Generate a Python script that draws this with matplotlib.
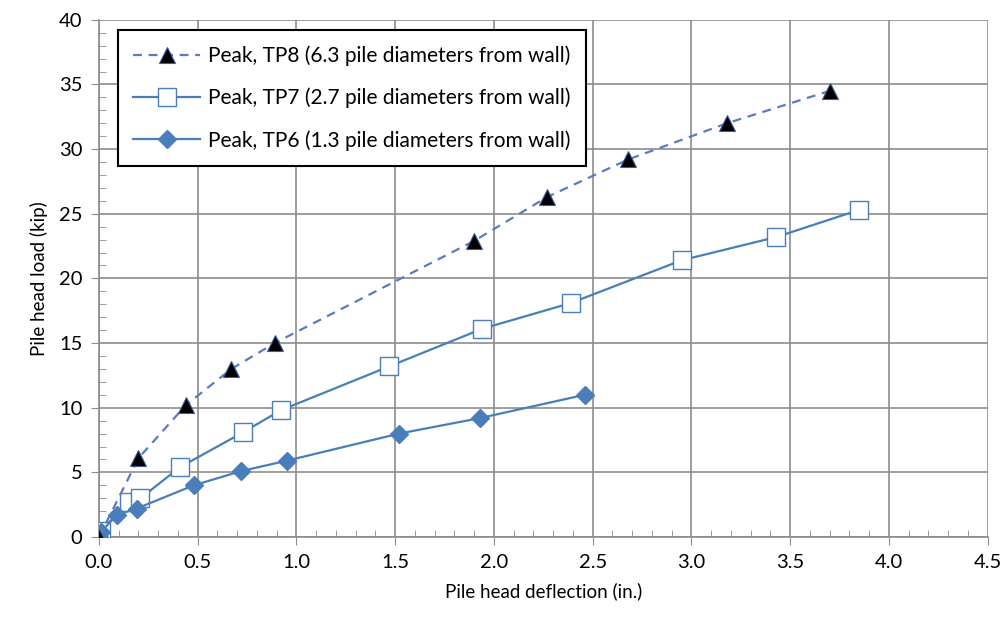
import matplotlib.pyplot as plt
from matplotlib.ticker import MultipleLocator

plt.rcParams["font.family"] = ["Lato", "DejaVu Sans"]

# peak load vs. deflection for the three test piles
tp8_defl = [0.0, 0.20, 0.44, 0.67, 0.89, 1.90, 2.27, 2.68, 3.18, 3.70]
tp8_load = [0.0, 6.1, 10.2, 13.0, 15.0, 22.9, 26.3, 29.2, 32.0, 34.5]

tp7_defl = [0.0, 0.01, 0.15, 0.21, 0.41, 0.73, 0.92, 1.47, 1.94, 2.39, 2.95, 3.43, 3.85]
tp7_load = [0.0, 0.5, 2.7, 3.0, 5.4, 8.1, 9.8, 13.2, 16.1, 18.1, 21.4, 23.2, 25.3]

tp6_defl = [0.0, 0.01, 0.09, 0.19, 0.48, 0.72, 0.95, 1.52, 1.93, 2.46]
tp6_load = [0.0, 0.4, 1.7, 2.2, 4.0, 5.1, 5.9, 8.0, 9.2, 11.0]

labels = [
    "Peak, TP8 (6.3 pile diameters from wall)",
    "Peak, TP7 (2.7 pile diameters from wall)",
    "Peak, TP6 (1.3 pile diameters from wall)",
]

blue = "#4a7ebb"

fig = plt.figure(figsize=(10.03, 6.18), dpi=100)
ax = fig.add_axes([0.0987, 0.131, 0.886, 0.837])

ax.plot(tp8_defl, tp8_load, linestyle=(0, (4, 3)), color="#5a7cbf", linewidth=1.6,
        marker="^", markersize=11, markerfacecolor="black", markeredgecolor="#3a5f9f",
        markeredgewidth=0.8, label=labels[0], zorder=5)
ax.plot(tp7_defl, tp7_load, color=blue, linewidth=1.6,
        marker="s", markersize=13, markerfacecolor="white", markeredgecolor=blue,
        markeredgewidth=1.0, label=labels[1], zorder=4)
ax.plot(tp6_defl, tp6_load, color=blue, linewidth=1.6,
        marker="D", markersize=9.5, markerfacecolor=blue, markeredgecolor=blue,
        label=labels[2], zorder=4)

ax.set_xlim(0, 4.5)
ax.set_ylim(0, 40)
ax.xaxis.set_major_locator(MultipleLocator(0.5))
ax.xaxis.set_minor_locator(MultipleLocator(0.1))
ax.yaxis.set_major_locator(MultipleLocator(5))
ax.yaxis.set_minor_locator(MultipleLocator(1))
ax.xaxis.set_major_formatter(plt.FormatStrFormatter("%.1f"))

ax.grid(True, which="major", color="#8c8c8c", linewidth=1.2)
ax.set_axisbelow(True)
for side in ["top", "right"]:
    ax.spines[side].set_visible(False)
for side in ["left", "bottom"]:
    ax.spines[side].set_color("#8c8c8c")
    ax.spines[side].set_linewidth(1.2)

ax.tick_params(which="major", direction="out", length=6, color="#8c8c8c",
               labelsize=14.5, pad=6)
ax.tick_params(which="minor", direction="in", length=5, color="#8c8c8c")

ax.set_xlabel("Pile head deflection (in.)", fontsize=13.5, labelpad=8)
ax.set_ylabel("Pile head load (kip)", fontsize=13.5, labelpad=8)

leg = ax.legend(loc="upper left", bbox_to_anchor=(0.021, 0.981), borderaxespad=0,
                fontsize=15, frameon=True, fancybox=False, labelspacing=1.05,
                handlelength=3.2, borderpad=0.75, handletextpad=0.4)
leg.get_frame().set_edgecolor("black")
leg.get_frame().set_linewidth(1.5)
leg.get_frame().set_alpha(1)

fig.savefig("out.png", dpi=100)
